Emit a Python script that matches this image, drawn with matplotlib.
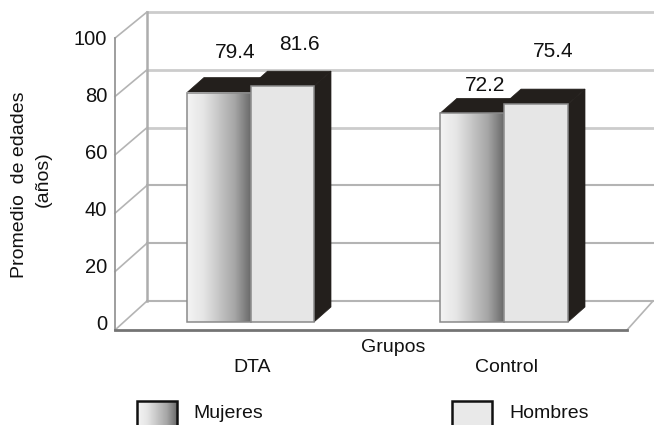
import numpy as np
import matplotlib
matplotlib.use("Agg")
import matplotlib.pyplot as plt
from matplotlib.patches import Polygon, Rectangle

plt.rcParams['font.family'] = ['Liberation Sans', 'DejaVu Sans']

groups = ["DTA", "Control"]
mujeres = [79.4, 72.2]
hombres = [81.6, 75.4]
y_ticks = [0, 20, 40, 60, 80, 100]
series_names = ["Mujeres", "Hombres"]

W, H = 654, 425
PX_PER_UNIT = 2.89
BASE_PX = 322


def v(px):
    """Pixel row to value units on the shared axes."""
    return (BASE_PX - px) / PX_PER_UNIT


fig = plt.figure(figsize=(W / 100, H / 100), dpi=100)
ax = fig.add_axes([0, 0, 1, 1])
ax.set_xlim(0, W)
ax.set_ylim(v(H), v(0))
ax.axis("off")

cmap = matplotlib.colors.LinearSegmentedColormap.from_list(
    "metal", ["#f4f4f4", "#e6e6e6", "#c6c6c6", "#a6a6a6", "#6a6a6a"])
ramp = np.linspace(0, 1, 128).reshape(1, -1)

# Chart box: left wall, floor and gridlines
front_x, back_x, floor_right = 115, 147, 627
front_zero, back_zero = v(330), v(301)
for t in y_ticks:
    front_y = front_zero + t * 1.01
    back_y = back_zero + t
    ax.plot([front_x, back_x], [front_y, back_y], color="#b4b4b4", lw=1.2, zorder=1)
    light = t >= 60
    ax.plot([back_x, W], [back_y, back_y],
            color="#cccccc" if light else "#b4b4b4", lw=2.0 if light else 1.5, zorder=1)
ax.plot([front_x, front_x], [front_zero, front_zero + 101], color="#969696", lw=1.3, zorder=1)
ax.plot([back_x, back_x], [back_zero, back_zero + 100], color="#adadad", lw=1.8, zorder=1)
ax.plot([floor_right, W - 1], [front_zero, back_zero], color="#b4b4b4", lw=1.2, zorder=1)
ax.plot([front_x, floor_right], [front_zero, front_zero], color="#747474", lw=2.0, zorder=6)

DX, DY = 17, 15 / PX_PER_UNIT
top_color = "#231f1c"


def bar3d(x0, x1, value, z, gradient):
    ax.add_patch(Polygon([(x0, value), (x0 + DX, value + DY), (x1 + DX, value + DY), (x1, value)],
                         fc=top_color, ec=top_color, lw=0.5, zorder=z))
    ax.add_patch(Polygon([(x1, 0), (x1 + DX, DY), (x1 + DX, value + DY), (x1, value)],
                         fc=top_color, ec=top_color, lw=0.5, zorder=z))
    if gradient:
        ax.imshow(ramp, extent=(x0, x1, 0, value), cmap=cmap, aspect="auto", zorder=z + 0.1)
        ax.add_patch(Rectangle((x0, 0), x1 - x0, value, fc="none", ec="#8a8a8a", lw=1.1, zorder=z + 0.2))
    else:
        ax.add_patch(Rectangle((x0, 0), x1 - x0, value, fc="#e6e6e6", ec="#8a8a8a", lw=1.1, zorder=z + 0.2))


left_edges = [187, 440]
bar_width = [63.5, 64]
value_font = 15
tick_font = 14.5
text_font = 14
for i, group in enumerate(groups):
    x0 = left_edges[i]
    w = bar_width[i]
    bar3d(x0, x0 + w, mujeres[i], 3, True)
    bar3d(x0 + w, x0 + 2 * w, hombres[i], 4, False)

label_spots = [(235, 52), (299, 44), (485, 85), (553, 51)]
for (lx, ly), val in zip(label_spots, [mujeres[0], hombres[0], mujeres[1], hombres[1]]):
    ax.text(lx, v(ly), f"{val:.1f}", ha="center", va="center", fontsize=value_font, color="#111111", zorder=8)

# Value axis labels
for t in y_ticks:
    ax.text(107, t * 0.983 - 0.7, str(t), ha="right", va="center", fontsize=tick_font, color="#111111")

ax.text(20, v(185), "Promedio  de edades", rotation=90, ha="center", va="center", fontsize=text_font, color="#111111")
ax.text(43, v(179), "(años)", rotation=90, ha="center", va="center", fontsize=text_font, color="#111111")
ax.text(393, v(348), "Grupos", ha="center", va="center", fontsize=text_font, color="#111111")
ax.text(252, v(368), groups[0], ha="center", va="center", fontsize=text_font, color="#111111")
ax.text(506, v(368), groups[1], ha="center", va="center", fontsize=text_font, color="#111111")

# Legend swatches run off the bottom edge of the figure
ax.imshow(ramp, extent=(137, 177, v(425), v(401)), cmap=cmap, aspect="auto", zorder=3)
ax.add_patch(Rectangle((137, v(430)), 40, v(401) - v(430), fc="none", ec="#111111", lw=1.8, zorder=4))
ax.add_patch(Rectangle((452, v(430)), 40, v(401) - v(430), fc="#e9e9e9", ec="#111111", lw=1.8, zorder=4))
ax.text(193, v(413), series_names[0], ha="left", va="center", fontsize=text_font, color="#111111")
ax.text(509, v(413), series_names[1], ha="left", va="center", fontsize=text_font, color="#111111")

ax.set_xlim(0, W)
ax.set_ylim(v(H), v(0))
fig.savefig("out.png", dpi=100)
